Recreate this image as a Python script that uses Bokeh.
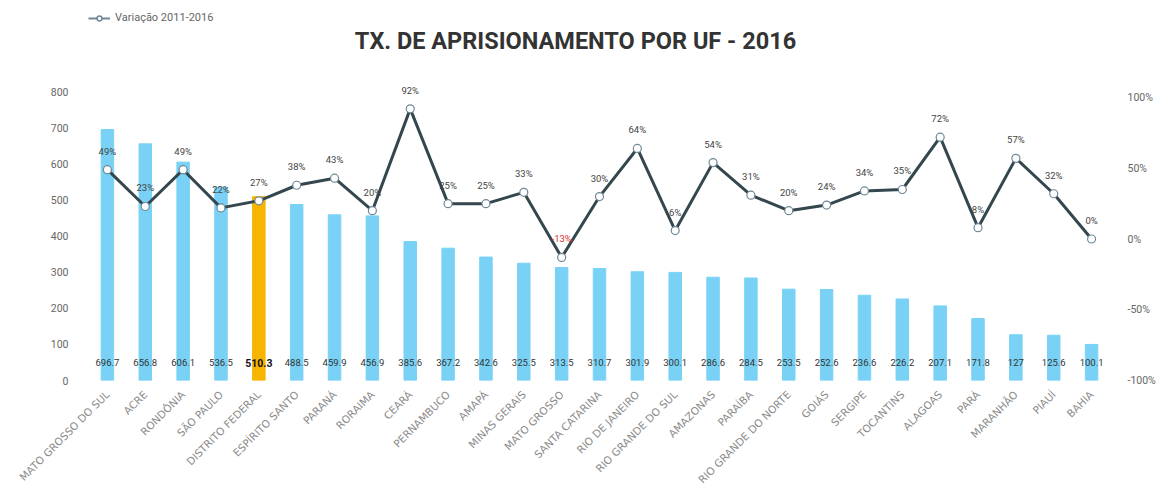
from bokeh.plotting import figure
from bokeh.layouts import column
from bokeh.models import (FactorRange, Range1d, LinearAxis, FixedTicker, PrintfTickFormatter,
                          ColumnDataSource, Legend, LegendItem, Label)
from bokeh.core.properties import value
from bokeh.embed import file_html
from bokeh.resources import INLINE
import math

states = ["MATO GROSSO DO SUL", "ACRE", "RONDÔNIA", "SÃO PAULO", "DISTRITO FEDERAL",
          "ESPÍRITO SANTO", "PARANÁ", "RORAIMA", "CEARÁ", "PERNAMBUCO", "AMAPÁ",
          "MINAS GERAIS", "MATO GROSSO", "SANTA CATARINA", "RIO DE JANEIRO",
          "RIO GRANDE DO SUL", "AMAZONAS", "PARAÍBA", "RIO GRANDE DO NORTE", "GOIÁS",
          "SERGIPE", "TOCANTINS", "ALAGOAS", "PARÁ", "MARANHÃO", "PIAUÍ", "BAHIA"]
rate_2016 = [696.7, 656.8, 606.1, 536.5, 510.3, 488.5, 459.9, 456.9, 385.6, 367.2, 342.6,
             325.5, 313.5, 310.7, 301.9, 300.1, 286.6, 284.5, 253.5, 252.6, 236.6, 226.2,
             207.1, 171.8, 127.0, 125.6, 100.1]
variation_2011_2016 = [49, 23, 49, 22, 27, 38, 43, 20, 92, 25, 25, 33, -13, 30, 64, 6, 54,
                       31, 20, 24, 34, 35, 72, 8, 57, 32, 0]
highlight = "DISTRITO FEDERAL"
left_ticks = [0, 100, 200, 300, 400, 500, 600, 700, 800]
right_ticks = [-100, -50, 0, 50, 100]
title_text = "TX. DE APRISIONAMENTO POR UF - 2016"
legend_text = "Variação 2011-2016"

BLUE = "#79d2f5"
ORANGE = "#f7b500"
LINE = "#34474f"
MARK = "#6f8896"

bar_colors = [ORANGE if s == highlight else BLUE for s in states]
val_text = [("%g" % v) for v in rate_2016]
pct_text = [f"{v}%" for v in variation_2011_2016]
pct_colors = ["#e0302f" if v < 0 else "#444444" for v in variation_2011_2016]
is_hl = [s == highlight for s in states]

W = 1144
HEAD_H = 80
FW, FH = 1022, 294
TOP, BOTTOM, LEFT = 6, 103, 88
RIGHT = W - LEFT - FW

# ---------- header (title + legend); its frame lines up with the chart's frame ----------
head = figure(frame_width=FW, height=HEAD_H, x_range=Range1d(LEFT, LEFT + FW),
              y_range=Range1d(0, HEAD_H), x_axis_type=None, y_axis_type=None,
              min_border_left=LEFT, min_border_right=RIGHT, min_border_top=0,
              min_border_bottom=0, output_backend="svg", toolbar_location=None, tools="")
head.outline_line_color = None
head.xgrid.grid_line_color = None
head.ygrid.grid_line_color = None
nan_src = ColumnDataSource(dict(x=[float("nan")], y=[float("nan")]))
hl_line = head.line(x="x", y="y", source=nan_src, line_color=MARK, line_width=2)
hl_pts = head.scatter(x="x", y="y", source=nan_src, size=8, fill_color="white",
                      line_color=MARK, line_width=1.5)
head.add_layout(Legend(items=[LegendItem(label=legend_text, renderers=[hl_line, hl_pts])],
                       location=(0, HEAD_H - 24), background_fill_alpha=0,
                       border_line_color=None,
                       label_text_font_size="11px", label_text_color="#666666",
                       label_text_font="Roboto", glyph_width=22, glyph_height=12,
                       padding=2, margin=0, label_standoff=5))
head.add_layout(Label(x=575, y=HEAD_H - 40, text=title_text, text_align="center",
                      text_baseline="middle", text_font_size="23.5px", text_font_style="bold",
                      text_color="#333333", text_font="Roboto"))

# ---------- main chart ----------
p = figure(x_range=FactorRange(factors=states, range_padding=0),
           y_range=Range1d(0, 816),
           frame_width=FW, frame_height=FH,
           min_border_left=LEFT, min_border_right=RIGHT,
           min_border_top=TOP, min_border_bottom=BOTTOM,
           output_backend="svg", toolbar_location=None, tools="")
p.extra_y_ranges = {"pct": Range1d(-100, 107.8)}

p.outline_line_color = None
p.xgrid.grid_line_color = None
p.ygrid.grid_line_color = None

# bars
src = ColumnDataSource(dict(x=states, top=rate_2016, color=bar_colors))
p.vbar(x="x", top="top", width=0.33, color="color", source=src)

# value labels inside bars
normal = ColumnDataSource(dict(x=[s for s, h in zip(states, is_hl) if not h],
                               y=[0] * (len(states) - sum(is_hl)),
                               t=[t for t, h in zip(val_text, is_hl) if not h]))
p.text(x="x", y="y", text="t", source=normal, y_offset=-18, text_align="center",
       text_baseline="middle", text_font_size="9.5px", text_color="#333333",
       text_font=value("Roboto"))
hls = ColumnDataSource(dict(x=[s for s, h in zip(states, is_hl) if h],
                            y=[0] * sum(is_hl),
                            t=[t for t, h in zip(val_text, is_hl) if h]))
p.text(x="x", y="y", text="t", source=hls, y_offset=-18, text_align="center",
       text_baseline="middle", text_font_size="10.5px", text_color="#111111",
       text_font_style="bold", text_font=value("Roboto"))

# variation line
lsrc = ColumnDataSource(dict(x=states, y=variation_2011_2016, t=pct_text, c=pct_colors))
p.line(x="x", y="y", source=lsrc, y_range_name="pct", line_color=LINE, line_width=3)
p.scatter(x="x", y="y", source=lsrc, y_range_name="pct", size=8, fill_color="white",
          line_color=MARK, line_width=1.2)
p.text(x="x", y="y", text="t", text_color="c", source=lsrc, y_range_name="pct", y_offset=-13,
       text_align="center", text_baseline="bottom", text_font_size="9.5px",
       text_font=value("Roboto"))

# axes
p.yaxis.ticker = FixedTicker(ticks=left_ticks)
ya = p.yaxis[0]
ya.axis_line_color = None
ya.major_tick_line_color = None
ya.minor_tick_line_color = None
ya.major_label_text_color = "#666666"
ya.major_label_text_font_size = "10.5px"
ya.major_label_text_font = "Roboto"
ya.major_label_standoff = 14

ra = LinearAxis(y_range_name="pct", ticker=FixedTicker(ticks=right_ticks),
                formatter=PrintfTickFormatter(format="%d%%"))
ra.axis_line_color = None
ra.major_tick_line_color = None
ra.minor_tick_line_color = None
ra.major_label_text_color = "#666666"
ra.major_label_text_font_size = "10.5px"
ra.major_label_text_font = "Roboto"
ra.major_label_standoff = 11
p.add_layout(ra, "right")

xa = p.xaxis[0]
xa.axis_line_color = None
xa.major_tick_line_color = None
xa.minor_tick_line_color = None
xa.major_label_orientation = math.pi / 4
xa.major_label_text_color = "#8a8a8a"
xa.major_label_text_font_size = "10.5px"
xa.major_label_text_font = "DejaVu Sans"
xa.major_label_standoff = 6

open("out.html", "w").write(file_html(column(head, p, spacing=0), INLINE))
